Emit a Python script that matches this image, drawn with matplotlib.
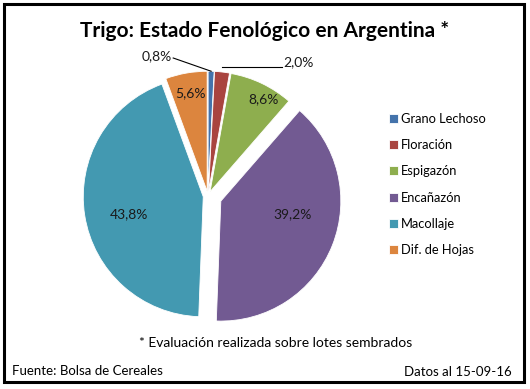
import matplotlib
matplotlib.use("Agg")
import matplotlib.pyplot as plt
from matplotlib.patches import Rectangle
import numpy as np

plt.rcParams['font.family'] = ['Lato', 'DejaVu Sans']

etapas = ["Grano Lechoso", "Floración", "Espigazón", "Encañazón", "Macollaje", "Dif. de Hojas"]
porcentajes = [0.8, 2.0, 8.6, 39.2, 43.8, 5.6]
etiquetas = ["0,8%", "2,0%", "8,6%", "39,2%", "43,8%", "5,6%"]
colores = ["#4473AB", "#A9443F", "#8EAE4E", "#725A92", "#4399B1", "#DC853E"]
separacion = [0.04, 0.04, 0.04, 0.115, 0.04, 0.04]

W, H = 530, 389
fig = plt.figure(figsize=(W / 100, H / 100), dpi=100)

# pie axes: center at (208, 196) px, radius 113 px
cx, cy, r, half = 208, 196, 113, 150
ax = fig.add_axes([(cx - half) / W, (H - cy - half) / H, 2 * half / W, 2 * half / H])
lim = half / r
ax.set_xlim(-lim, lim)
ax.set_ylim(-lim, lim)
ax.axis('off')

wedges, _ = ax.pie(porcentajes, colors=colores, startangle=90, counterclock=False,
                   explode=separacion, radius=1.0,
                   wedgeprops=dict(edgecolor='white', linewidth=0.6))
for w in wedges:
    w.set_clip_on(False)

# data labels (positions in radius units)
pos_etiquetas = {
    "8,6%": (0.46, 0.805),
    "39,2%": (0.708, -0.15),
    "43,8%": (-0.655, -0.15),
    "5,6%": (-0.142, 0.858),
}
for lab, (x, y) in pos_etiquetas.items():
    ax.text(x, y, lab, ha='center', va='center', fontsize=10, color='#1a1a1a')

def borde_superior(i):
    w = wedges[i]
    ang = np.deg2rad((w.theta1 + w.theta2) / 2)
    c = w.center
    return c[0] + np.cos(ang) * w.r, c[1] + np.sin(ang) * w.r

# 0,8% with leader line
bx, by = borde_superior(0)
ax.plot([-0.29, bx], [1.15, by], color='black', lw=0.8, clip_on=False)
ax.text(-0.30, 1.168, etiquetas[0], ha='right', va='center', fontsize=10, color='#1a1a1a')

# 2,0% with leader line
rx, ry = borde_superior(1)
ax.plot([rx, 0.62], [1.071, 1.071], color='black', lw=0.8, clip_on=False)
ax.text(0.63, 1.115, etiquetas[1], ha='left', va='center', fontsize=10, color='#1a1a1a')

# legend
fig.legend(wedges, etapas, loc='upper left', bbox_to_anchor=(389 / W, 1 - 113 / H),
           frameon=False, fontsize=9.3, handlelength=0.7, handleheight=0.7,
           handletextpad=0.25, labelspacing=1.1, borderaxespad=0, borderpad=0)

fig.text(265 / W, 1 - 31 / H, "Trigo: Estado Fenológico en Argentina *",
         ha='center', va='center', fontsize=15, fontweight='bold')
fig.text(276 / W, 1 - 343 / H, "* Evaluación realizada sobre lotes sembrados",
         ha='center', va='center', fontsize=10)
fig.text(12 / W, 1 - 371 / H, "Fuente: Bolsa de Cereales", ha='left', va='center', fontsize=9.5)
fig.text(512 / W, 1 - 372 / H, "Datos al 15-09-16", ha='right', va='center', fontsize=9.5)

fig.patches.append(Rectangle((4 / W, 1 - 382 / H), 520 / W, 378 / H, transform=fig.transFigure,
                             fill=False, edgecolor='black', linewidth=2.2))

fig.savefig("out.png", dpi=100)
